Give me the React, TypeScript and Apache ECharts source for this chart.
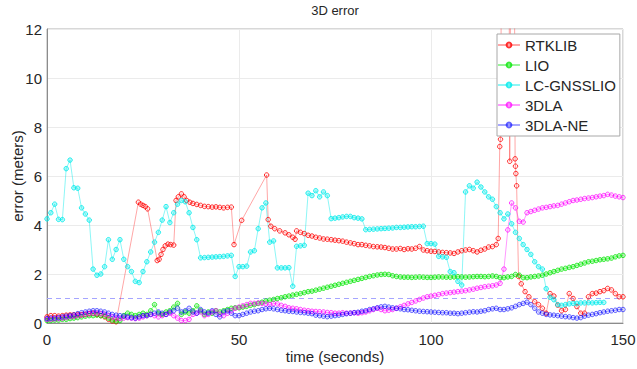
import React, { useEffect, useRef } from "react";
import * as echarts from "echarts";

const TITLE = "3D error";
const X_NAME = "time (seconds)";
const Y_NAME = "error (meters)";
const THRESHOLD = 1;
const X_RANGE = [0, 150];

// sample times (s) shared by the uniformly sampled series
const TIME = [
  0, 1, 2, 3, 4, 5, 6, 7, 8, 9, 10, 11, 12, 13, 14, 15, 16, 17, 18, 19, 20, 21, 22, 23, 24, 25, 26, 27, 28, 29,
  30, 31, 32, 33, 34, 35, 36, 37, 38, 39, 40, 41, 42, 43, 44, 45, 46, 47, 48, 49, 50, 51, 52, 53, 54, 55, 56, 57, 58, 59,
  60, 61, 62, 63, 64, 65, 66, 67, 68, 69, 70, 71, 72, 73, 74, 75, 76, 77, 78, 79, 80, 81, 82, 83, 84, 85, 86, 87, 88, 89,
  90, 91, 92, 93, 94, 95, 96, 97, 98, 99, 100, 101, 102, 103, 104, 105, 106, 107, 108, 109, 110, 111, 112, 113, 114, 115, 116, 117, 118, 119,
  120, 121, 122, 123, 124, 125, 126, 127, 128, 129, 130, 131, 132, 133, 134, 135, 136, 137, 138, 139, 140, 141, 142, 143, 144, 145, 146, 147, 148, 149, 150,
];

// RTKLIB: irregular samples [time, error]
const RTKLIB = [
  [0, 0.25], [1, 0.3], [2, 0.3], [3, 0.28], [4, 0.3], [5, 0.32], [6, 0.33], [7, 0.33], [8, 0.35], [9, 0.34],
  [10, 0.35], [11, 0.38], [12, 0.4], [13, 0.35], [14, 0.3], [15, 0.25], [16, 0.15], [17, 0.08], [18, 0.05],
  [23.8, 4.93], [24.4, 4.85], [25, 4.8], [25.6, 4.75], [26.2, 4.66],
  [28.7, 2.55], [29.2, 2.6], [29.7, 2.8], [30.2, 3.0], [30.8, 3.15], [31.5, 3.22], [32.2, 3.2], [33, 3.18],
  [33.6, 5.0], [34.2, 5.15], [35, 5.27], [35.7, 5.15], [36.4, 5.0], [37.2, 4.93], [38, 4.88], [39, 4.84],
  [40, 4.8], [41, 4.76], [42, 4.75], [43, 4.73], [44, 4.74], [45, 4.72], [46, 4.7], [47, 4.72], [48, 4.73],
  [48.7, 3.2], [50.7, 4.19], [57.2, 6.04], [57.6, 4.22], [58.3, 3.95], [59.3, 3.85], [60.6, 3.76],
  [62, 3.68], [63, 3.6], [64, 3.5], [64.6, 3.42], [65, 3.76], [66, 3.7], [67, 3.65], [68, 3.58], [69, 3.55],
  [70, 3.5], [71, 3.47], [72, 3.43], [73, 3.42], [74, 3.4], [75, 3.38], [76, 3.36], [77, 3.34], [78, 3.3], [79, 3.27],
  [80, 3.24], [81, 3.2], [82, 3.2], [83, 3.17], [84, 3.15], [85, 3.12], [86, 3.11], [87, 3.1], [88, 3.08], [89, 3.05],
  [90, 3.02], [91, 3.02], [92, 3.04], [93, 3.0], [94, 3.03], [95, 3.02], [96, 3.05], [97, 3.12], [98, 2.98], [99, 2.95],
  [100, 2.93], [101, 2.92], [102, 2.9], [103, 2.88], [104, 2.87], [105, 2.86], [106, 2.84], [107, 2.9], [108, 2.95], [109, 2.98],
  [110, 3.0], [111, 2.95], [112, 2.9], [113, 2.97], [114, 3.02], [115, 3.1], [116, 3.12], [117, 3.2], [117.5, 3.45],
  [117.9, 7.2], [118.1, 7.5], [118.4, 16], [120.3, 16], [120.5, 6.6], [120.8, 16], [121.7, 16],
  [121.9, 6.7], [122, 6.4], [122.1, 6.1], [122.3, 5.6], [122.8, 1.9], [123.5, 1.6], [124.5, 1.28], [125.5, 1.07],
  [127, 0.87], [128, 0.75], [129, 0.6], [130, 0.4], [131, 1.2], [132, 1.1], [133, 0.73], [134, 0.5], [135, 0.55],
  [136, 1.2], [137, 1.0], [138, 0.67], [139, 0.4], [140, 0.4], [141, 1.07], [142, 1.2], [143, 1.22], [144, 1.28],
  [145, 1.32], [146, 1.41], [147, 1.35], [148, 1.2], [149, 1.07], [150, 1.07],
];

const LIO = [
  0.1, 0.1, 0.12, 0.12, 0.15, 0.15, 0.18, 0.2, 0.22, 0.25,
  0.28, 0.3, 0.3, 0.32, 0.3, 0.28, 0.2, 0.12, 0.08, 0.1,
  0.3, 0.4, 0.35, 0.3, 0.35, 0.4, 0.35, 0.5, 0.75, 0.4,
  0.35, 0.45, 0.5, 0.65, 0.8, 0.35, 0.45, 0.4, 0.5, 0.7,
  0.5, 0.35, 0.45, 0.4, 0.5, 0.45, 0.5, 0.55, 0.6, 0.62,
  0.62, 0.65, 0.68, 0.72, 0.75, 0.8, 0.85, 0.9, 0.93, 0.96,
  1.0, 1.03, 1.07, 1.1, 1.14, 1.17, 1.2, 1.24, 1.28, 1.3,
  1.34, 1.38, 1.42, 1.46, 1.5, 1.54, 1.58, 1.62, 1.66, 1.7,
  1.74, 1.78, 1.82, 1.86, 1.9, 1.93, 1.96, 1.98, 1.99, 1.98,
  1.93, 1.9, 1.88, 1.87, 1.87, 1.86, 1.87, 1.88, 1.87, 1.86,
  1.86, 1.87, 1.88, 1.88, 1.87, 1.87, 1.88, 1.89, 1.88, 1.87,
  1.88, 1.89, 1.9, 1.9, 1.89, 1.9, 1.92, 1.9, 1.85, 1.85,
  1.88, 1.9, 1.98, 1.95, 1.85, 1.85, 1.88, 1.9, 1.92, 1.95,
  2.0, 2.05, 2.1, 2.15, 2.2, 2.23, 2.27, 2.3, 2.35, 2.4,
  2.45, 2.5, 2.52, 2.55, 2.58, 2.6, 2.62, 2.65, 2.7, 2.74, 2.76,
];

// LC-GNSSLIO ends at t = 145 s
const LC_GNSSLIO = [
  4.25, 4.5, 4.85, 4.23, 4.22, 6.3, 6.65, 5.52, 5.5, 4.7,
  4.45, 4.2, 2.2, 1.95, 2.0, 2.3, 3.4, 2.6, 3.0, 3.4,
  2.6, 2.3, 2.1, 1.7, 1.65, 2.1, 2.5, 2.9, 3.3, 3.7,
  4.2, 4.75, 4.1, 4.5, 4.85, 5.0, 4.95, 4.5, 3.9, 3.4,
  2.66, 2.67, 2.68, 2.69, 2.7, 2.71, 2.72, 2.74, 2.76, 1.9,
  2.3, 2.3, 2.32, 2.9, 2.95, 3.85, 4.7, 4.9, 3.3, 3.35,
  2.25, 2.25, 2.25, 2.26, 1.5, 3.13, 3.15, 3.17, 5.3, 5.2,
  5.4, 5.15, 5.35, 5.2, 4.26, 4.28, 4.3, 4.33, 4.35, 4.35,
  4.3, 4.28, 4.25, 3.81, 3.82, 3.83, 3.84, 3.85, 3.86, 3.87,
  3.88, 3.9, 3.9, 3.91, 3.92, 3.93, 3.93, 3.94, 3.95, 3.24,
  3.24, 3.22, 2.72, 2.7, 2.68, 2.1, 2.05, 1.7, 1.55, 5.35,
  5.6, 5.5, 5.75, 5.55, 5.35, 5.15, 5.05, 4.75, 4.5, 4.25,
  4.45, 4.05, 3.7, 3.45, 3.2, 3.0, 2.8, 2.5, 2.3, 2.2,
  1.4, 1.05, 0.95, 0.75, 0.72, 0.75, 0.78, 0.8, 0.8, 0.82,
  0.82, 0.83, 0.82, 0.83, 0.84, 0.84,
];

const DLA = [
  0.15, 0.15, 0.17, 0.18, 0.2, 0.22, 0.25, 0.27, 0.3, 0.32,
  0.35, 0.38, 0.4, 0.4, 0.38, 0.35, 0.3, 0.25, 0.2, 0.18,
  0.2, 0.22, 0.2, 0.18, 0.2, 0.25, 0.3, 0.35, 0.3, 0.25,
  0.3, 0.35, 0.4, 0.3, 0.2, 0.1, 0.1, 0.15, 0.35, 0.4,
  0.45, 0.3, 0.35, 0.45, 0.5, 0.35, 0.3, 0.4, 0.5, 0.6,
  0.65, 0.7, 0.75, 0.8, 0.8, 0.82, 0.8, 0.78, 0.75, 0.8,
  0.78, 0.72, 0.68, 0.62, 0.6, 0.58, 0.55, 0.52, 0.5, 0.48,
  0.47, 0.46, 0.45, 0.43, 0.42, 0.4, 0.4, 0.42, 0.4, 0.4,
  0.42, 0.4, 0.42, 0.45, 0.5, 0.55, 0.6, 0.55, 0.5, 0.52,
  0.55, 0.6, 0.66, 0.72, 0.78, 0.84, 0.9, 0.96, 1.02, 1.07,
  1.1, 1.13, 1.16, 1.2, 1.22, 1.24, 1.26, 1.28, 1.3, 1.32,
  1.35, 1.38, 1.42, 1.45, 1.48, 1.5, 1.52, 1.55, 1.62, 2.2,
  3.8, 4.9, 4.7, 4.15, 4.12, 4.5, 4.55, 4.6, 4.65, 4.7,
  4.72, 4.75, 4.78, 4.8, 4.85, 4.9, 4.95, 5.0, 5.02, 5.05,
  5.08, 5.1, 5.12, 5.15, 5.18, 5.2, 5.25, 5.22, 5.18, 5.15, 5.12,
];

const DLA_NE = [
  0.18, 0.2, 0.2, 0.22, 0.25, 0.28, 0.3, 0.33, 0.38, 0.42,
  0.45, 0.48, 0.5, 0.5, 0.48, 0.45, 0.4, 0.35, 0.32, 0.3,
  0.28, 0.25, 0.22, 0.2, 0.25, 0.3, 0.3, 0.35, 0.4, 0.45,
  0.4, 0.35, 0.45, 0.5, 0.6, 0.45, 0.5, 0.6, 0.45, 0.4,
  0.55, 0.45, 0.4, 0.5, 0.35, 0.25, 0.45, 0.5, 0.4, 0.3,
  0.3, 0.35, 0.4, 0.45, 0.48, 0.5, 0.55, 0.58, 0.6, 0.58,
  0.55, 0.52, 0.5, 0.48, 0.47, 0.45, 0.43, 0.42, 0.4, 0.38,
  0.32, 0.3, 0.28, 0.26, 0.28, 0.3, 0.32, 0.35, 0.38, 0.4,
  0.42, 0.44, 0.48, 0.5, 0.55, 0.58, 0.62, 0.66, 0.68, 0.65,
  0.62, 0.6, 0.58, 0.55, 0.54, 0.52, 0.5, 0.48, 0.47, 0.46,
  0.45, 0.44, 0.43, 0.42, 0.42, 0.4, 0.4, 0.38, 0.4, 0.42,
  0.44, 0.46, 0.45, 0.48, 0.5, 0.55, 0.58, 0.6, 0.55, 0.55,
  0.58, 0.62, 0.68, 0.75, 0.8, 0.85, 0.75, 0.6, 0.45, 0.4,
  0.35, 0.33, 0.32, 0.3, 0.28, 0.26, 0.25, 0.22, 0.2, 0.22,
  0.28, 0.32, 0.35, 0.38, 0.42, 0.45, 0.48, 0.5, 0.52, 0.55, 0.55,
];

const SERIES_NAMES = ["RTKLIB", "LIO", "LC-GNSSLIO", "3DLA", "3DLA-NE"];

const FONT = "'Liberation Sans', Arial, Helvetica, sans-serif";
const TEXT = "#262626";

function withTime(values: number[]) {
  return values.map((v, i) => [TIME[i], v]);
}

function lineSeries(name: string, data: number[][], rgb: string, lineA: number, edgeA: number, fillA: number) {
  return {
    name,
    type: "line",
    data,
    symbol: "circle",
    symbolSize: 4.5,
    showSymbol: true,
    clip: true,
    lineStyle: { color: `rgba(${rgb},${lineA})`, width: 1 },
    itemStyle: {
      color: `rgba(${rgb},${fillA})`,
      borderColor: `rgba(${rgb},${edgeA})`,
      borderWidth: 1,
    },
    emphasis: { disabled: true },
  };
}

export default function App() {
  const ref = useRef<HTMLDivElement>(null);
  useEffect(() => {
    if (!ref.current) return;
    const chart = echarts.init(ref.current, null, { renderer: "svg" });
    chart.setOption({
      animation: false,
      backgroundColor: "#ffffff",
      title: {
        text: TITLE,
        left: 335,
        top: 4,
        padding: 0,
        textAlign: "center",
        textStyle: { fontFamily: FONT, fontSize: 13, fontWeight: "normal", color: TEXT },
      },
      grid: {
        left: 47,
        right: 14,
        top: 29,
        bottom: 46,
        containLabel: false,
        outerBoundsMode: "none",
        show: true,
        borderColor: "#b0b0b0",
        borderWidth: 1,
        backgroundColor: "transparent",
      },
      legend: {
        data: SERIES_NAMES,
        orient: "vertical",
        left: 497,
        top: 34,
        itemWidth: 22,
        itemHeight: 6,
        itemGap: 4,
        padding: [3, 4, 3, 0],
        backgroundColor: "#ffffff",
        borderColor: "#a8a8a8",
        borderWidth: 1,
        textStyle: { fontFamily: FONT, fontSize: 15, color: TEXT, lineHeight: 16 },
      },
      xAxis: {
        type: "value",
        min: X_RANGE[0],
        max: X_RANGE[1],
        interval: 50,
        name: X_NAME,
        nameLocation: "middle",
        nameGap: 26,
        nameMoveOverlap: false,
        nameTextStyle: { fontFamily: FONT, fontSize: 15, color: TEXT },
        axisLine: { show: true, lineStyle: { color: "#8c8c8c" } },
        axisTick: { show: false },
        axisLabel: { fontFamily: FONT, fontSize: 15, color: TEXT, margin: 9 },
        splitLine: { show: true, lineStyle: { color: "#ebebeb", width: 1 } },
      },
      yAxis: {
        type: "value",
        min: 0,
        max: 12,
        interval: 2,
        name: Y_NAME,
        nameLocation: "middle",
        nameGap: 22,
        nameMoveOverlap: false,
        nameTextStyle: { fontFamily: FONT, fontSize: 15, color: TEXT },
        axisLine: { show: true, lineStyle: { color: "#8c8c8c" } },
        axisTick: { show: false },
        axisLabel: { fontFamily: FONT, fontSize: 15, color: TEXT, margin: 5 },
        splitLine: { show: true, lineStyle: { color: "#ebebeb", width: 1 } },
      },
      series: [
        {
          name: "threshold",
          type: "line",
          data: [[X_RANGE[0], THRESHOLD], [X_RANGE[1], THRESHOLD]],
          symbol: "none",
          lineStyle: { color: "#a5a5ff", type: [5, 4], width: 1 },
          silent: true,
          z: 1,
        },
        lineSeries("RTKLIB", RTKLIB, "255,0,0", 0.35, 0.8, 0.05),
        lineSeries("LIO", withTime(LIO), "0,230,0", 0.4, 0.75, 0.25),
        lineSeries("LC-GNSSLIO", withTime(LC_GNSSLIO), "0,235,235", 0.45, 0.8, 0.3),
        lineSeries("3DLA", withTime(DLA), "255,0,255", 0.4, 0.7, 0.1),
        lineSeries("3DLA-NE", withTime(DLA_NE), "0,0,255", 0.35, 0.6, 0.1),
      ],
    });
    return () => chart.dispose();
  }, []);
  return <div ref={ref} style={{ width: 637, height: 369, position: "absolute", left: 0, top: 0 }} />;
}
